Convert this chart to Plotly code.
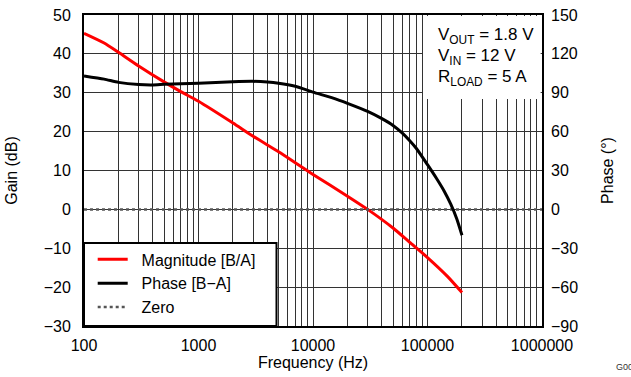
import plotly.graph_objects as go

# ---- data ----
freq_mag = [100, 150, 200, 300, 500, 700, 1000, 2000, 3000, 5000, 7000, 10000,
            20000, 30000, 50000, 70000, 100000, 150000, 200000]
magnitude = [45.3, 42.8, 40.4, 36.9, 32.8, 30.3, 27.8, 22.2, 18.8, 14.8, 12.0, 9.0,
             3.4, 0.0, -4.8, -8.5, -12.4, -17.3, -21.4]

freq_ph = [100, 150, 200, 300, 400, 500, 700, 1000, 2000, 3000, 4000, 5000, 7000,
           10000, 15000, 20000, 30000, 40000, 50000, 60000, 70000, 80000,
           100000, 120000, 140000, 160000, 180000, 200000]
phase = [103, 100.5, 98.0, 96.3, 96.0, 96.5, 97.0, 97.4, 98.5, 98.8, 98.3, 97.4, 95.0,
         90.5, 85.8, 81.8, 75.6, 70.0, 64.8, 59.0, 53.0, 47.0,
         34.5, 23.8, 14.0, 3.8, -7.2, -20.0]

zero_freq = [100, 1000000]
zero_vals = [0, 0]

x_tickvals = [100, 1000, 10000, 100000, 1000000]
x_ticktext = ["100", "1000", "10000", "100000", "1000000"]
gain_ticks = [-30, -20, -10, 0, 10, 20, 30, 40, 50]
phase_ticks = [-90, -60, -30, 0, 30, 60, 90, 120, 150]
cond_lines = ["V<sub>OUT</sub> = 1.8 V", "V<sub>IN</sub> = 12 V", "R<sub>LOAD</sub> = 5 A"]


def lab(v):
    return ("\u2212" + str(abs(v))) if v < 0 else str(v)


FONT = "Liberation Sans, Arial, sans-serif"
GRID = "#333333"
FS = 16
NB = "\u00a0\u00a0"

fig = go.Figure()
fig.add_trace(go.Scatter(x=freq_mag, y=magnitude, mode="lines", name=NB + "Magnitude [B/A]",
                         line=dict(color="#ff0000", width=3, shape="spline", smoothing=0.6),
                         yaxis="y"))
fig.add_trace(go.Scatter(x=freq_ph, y=phase, mode="lines", name=NB + "Phase [B\u2212A]",
                         line=dict(color="#000000", width=3, shape="spline", smoothing=0.6),
                         yaxis="y2"))
fig.add_trace(go.Scatter(x=zero_freq, y=zero_vals, mode="lines", name=NB + "Zero",
                         line=dict(color="#555555", width=2.5, dash="dot"), yaxis="y"))

# plot area: x 84..542 px, y 15..326 px
def py(pix):
    return (326 - pix) / 311


def px(pix):
    return (pix - 84) / 458


annotations = [
    dict(text=t, xref="paper", yref="paper", x=px(436), y=py(yc), xanchor="left",
         yanchor="middle", align="left", showarrow=False,
         font=dict(family=FONT, size=17, color="black"))
    for t, yc in zip(cond_lines, [36, 57, 77.5])
]
annotations.append(dict(text="G000", xref="paper", yref="paper", x=px(614), y=py(367),
                        xanchor="left", yanchor="middle", showarrow=False,
                        font=dict(family=FONT, size=9, color="#333333")))

fig.update_layout(
    width=631, height=377,
    margin=dict(l=84, r=89, t=15, b=51),
    paper_bgcolor="white", plot_bgcolor="white",
    font=dict(family=FONT, size=FS, color="black"),
    showlegend=True,
    legend=dict(x=0.019, y=0.005, xanchor="left", yanchor="bottom",
                bgcolor="rgba(0,0,0,0)", borderwidth=0,
                font=dict(family=FONT, size=16, color="black")),
    xaxis=dict(type="log", range=[2, 6], tickvals=x_tickvals, ticktext=x_ticktext,
               showgrid=True, gridcolor=GRID, gridwidth=1,
               minor=dict(dtick="D1", showgrid=True, gridcolor=GRID, gridwidth=1),
               showline=True, mirror=True, linecolor="black", linewidth=2,
               ticks="", ticklabelstandoff=4, automargin=False,
               title=dict(text="Frequency (Hz)", standoff=4,
                          font=dict(family=FONT, size=FS))),
    yaxis=dict(range=[-30, 50], tickvals=gain_ticks, ticktext=[lab(v) for v in gain_ticks],
               showgrid=True, gridcolor=GRID, gridwidth=1, zeroline=False,
               showline=True, mirror=True, linecolor="black", linewidth=2,
               ticks="", ticklabelstandoff=8, automargin=False,
               title=dict(text="Gain (dB)", standoff=22,
                          font=dict(family=FONT, size=FS))),
    yaxis2=dict(range=[-90, 150], tickvals=phase_ticks, ticktext=[lab(v) for v in phase_ticks],
                overlaying="y", side="right", showgrid=False, zeroline=False,
                showline=False, ticks="", ticklabelstandoff=8, automargin=False,
                title=dict(text="Phase (\u00b0)", standoff=24,
                           font=dict(family=FONT, size=FS))),
    shapes=[
        # legend box
        dict(type="rect", xref="paper", yref="paper", x0=0, x1=px(276.5), y0=0, y1=py(243),
             fillcolor="white", line=dict(color="black", width=2), layer="above"),
        # conditions box
        dict(type="rect", xref="paper", yref="paper", x0=px(423), x1=0.997, y0=py(99), y1=0.997,
             fillcolor="white", line=dict(width=0), layer="above"),
    ],
    annotations=annotations,
)

fig.write_html("out.html", config={"displayModeBar": False},
               post_script="document.body.style.margin='0px';")
